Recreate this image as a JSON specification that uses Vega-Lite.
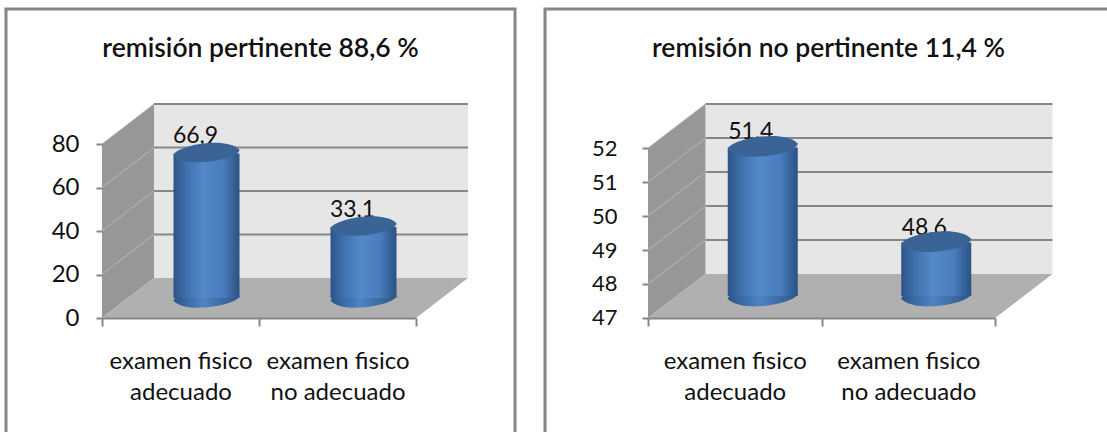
{"$schema":"https://vega.github.io/schema/vega-lite/v6.json","padding":{"left":4,"top":7,"right":0,"bottom":0},"background":"white","spacing":26,
"config":{"font":"Lato","view":{"stroke":"#868686","strokeWidth":3},"axis":{"labelFont":"Lato","labelColor":"#111111","tickColor":"#868686","domainColor":"#868686","tickWidth":2,"domainWidth":2}},
"datasets":{
"left_bars":[{"cat":"examen fisico adecuado","value":66.9,"label":"66,9"},{"cat":"examen fisico no adecuado","value":33.1,"label":"33,1"}],
"right_bars":[{"cat":"examen fisico adecuado","value":51.4,"label":"51,4"},{"cat":"examen fisico no adecuado","value":48.6,"label":"48,6"}],
"left_walls":[{"part":"back","x":0.331,"y":18.39,"y2":98.39},{"part":"back","x":2.331,"y":18.39,"y2":98.39},{"part":"side","x":0,"y":0,"y2":80},{"part":"side","x":0.331,"y":18.39,"y2":98.39},{"part":"floor","x":0,"y":0,"y2":0},{"part":"floor","x":0.331,"y":0,"y2":18.39},{"part":"floor","x":2,"y":0,"y2":18.39},{"part":"floor","x":2.331,"y":18.39,"y2":18.39}],
"right_walls":[{"part":"back","x":0.331,"y":48.294,"y2":53.294},{"part":"back","x":2.331,"y":48.294,"y2":53.294},{"part":"side","x":0,"y":47,"y2":52},{"part":"side","x":0.331,"y":48.294,"y2":53.294},{"part":"floor","x":0,"y":47,"y2":47},{"part":"floor","x":0.331,"y":47,"y2":48.294},{"part":"floor","x":2,"y":47,"y2":48.294},{"part":"floor","x":2.331,"y":48.294,"y2":48.294}],
"left_grid":[{"part":"side","v":20,"x":0,"y":20},{"part":"side","v":20,"x":0.331,"y":38.39},{"part":"side","v":40,"x":0,"y":40},{"part":"side","v":40,"x":0.331,"y":58.39},{"part":"side","v":60,"x":0,"y":60},{"part":"side","v":60,"x":0.331,"y":78.39},{"part":"side","v":80,"x":0,"y":80},{"part":"side","v":80,"x":0.331,"y":98.39},{"part":"back","v":20,"x":0.331,"y":38.39},{"part":"back","v":20,"x":2.331,"y":38.39},{"part":"back","v":40,"x":0.331,"y":58.39},{"part":"back","v":40,"x":2.331,"y":58.39},{"part":"back","v":60,"x":0.331,"y":78.39},{"part":"back","v":60,"x":2.331,"y":78.39},{"part":"back","v":80,"x":0.331,"y":98.39},{"part":"back","v":80,"x":2.331,"y":98.39}],
"right_grid":[{"part":"side","v":48,"x":0,"y":48},{"part":"side","v":48,"x":0.331,"y":49.294},{"part":"side","v":49,"x":0,"y":49},{"part":"side","v":49,"x":0.331,"y":50.294},{"part":"side","v":50,"x":0,"y":50},{"part":"side","v":50,"x":0.331,"y":51.294},{"part":"side","v":51,"x":0,"y":51},{"part":"side","v":51,"x":0.331,"y":52.294},{"part":"side","v":52,"x":0,"y":52},{"part":"side","v":52,"x":0.331,"y":53.294},{"part":"back","v":48,"x":0.331,"y":49.294},{"part":"back","v":48,"x":2.331,"y":49.294},{"part":"back","v":49,"x":0.331,"y":50.294},{"part":"back","v":49,"x":2.331,"y":50.294},{"part":"back","v":50,"x":0.331,"y":51.294},{"part":"back","v":50,"x":2.331,"y":51.294},{"part":"back","v":51,"x":0.331,"y":52.294},{"part":"back","v":51,"x":2.331,"y":52.294},{"part":"back","v":52,"x":0.331,"y":53.294},{"part":"back","v":52,"x":2.331,"y":53.294}]
},
"hconcat":[
{"width":509,"height":430,"title":{"text":"remisión pertinente 88,6 %","anchor":"middle","offset":-53,"fontSize":26.5,"fontWeight":600,"font":"Lato","color":"#111111"},
"resolve":{"scale":{"x":"independent"},"axis":{"x":"independent"}},
"layer":[
{"data":{"name":"left_walls"},"mark":{"type":"area","line":false},"encoding":{"x":{"field":"x","type":"quantitative","scale":{"domain":[-0.6115,2.6306],"nice":false,"zero":false},"axis":null},"y":{"field":"y","type":"quantitative","stack":false,"scale":{"domain":[-55.63,142.07],"nice":false,"zero":false},"axis":{"title":null,"values":[0,20,40,60,80],"offset":-96,"domain":false,"grid":false,"tickSize":6,"labelFontSize":24,"labelPadding":17,"zindex":1}},"y2":{"field":"y2"},"color":{"field":"part","type":"nominal","legend":null,"scale":{"domain":["back","side","floor"],"range":["#e6e6e6","#979797","#b0b0b0"]}}}},
{"data":{"name":"left_grid"},"transform":[{"filter":"datum.part=='side'"}],"mark":{"type":"line","color":"#b8b8b8","strokeWidth":1},"encoding":{"x":{"field":"x","type":"quantitative","scale":{"domain":[-0.6115,2.6306],"nice":false,"zero":false},"axis":null},"y":{"field":"y","type":"quantitative"},"detail":{"field":"v"}}},
{"data":{"name":"left_grid"},"transform":[{"filter":"datum.part=='back'"}],"mark":{"type":"line","color":"#868686","strokeWidth":2},"encoding":{"x":{"field":"x","type":"quantitative","scale":{"domain":[-0.6115,2.6306],"nice":false,"zero":false},"axis":null},"y":{"field":"y","type":"quantitative"},"detail":{"field":"v"}}},
{"data":{"name":"left_bars"},"mark":{"type":"point","filled":true,"opacity":1,"size":4356,"yOffset":-20,"xOffset":26,"shape":"M -1 0.08 C -0.95 -0.2 0.6 -0.52 1 -0.08 C 1.02 0.2 -0.6 0.52 -1 0.08 Z","fill":{"x1":0,"x2":1,"y1":0,"y2":0,"gradient":"linear","stops":[{"offset":0,"color":"#2c5588"},{"offset":0.45,"color":"#4f83c4"},{"offset":1,"color":"#2c5588"}]}},"encoding":{"x":{"field":"cat","type":"nominal","scale":{"type":"band","domain":["examen fisico adecuado","examen fisico no adecuado"],"range":[96,410],"paddingInner":0,"paddingOuter":0},"axis":null},"y":{"datum":0,"type":"quantitative"}}},
{"data":{"name":"left_bars"},"mark":{"type":"bar","size":66,"xOffset":26,"yOffset":-19,"y2Offset":-20,"fill":{"x1":0,"x2":1,"y1":0,"y2":0,"gradient":"linear","stops":[{"offset":0,"color":"#2c5588"},{"offset":0.2,"color":"#3f71ae"},{"offset":0.45,"color":"#5388ca"},{"offset":0.75,"color":"#4a7dbc"},{"offset":1,"color":"#2a5284"}]}},"encoding":{"x":{"field":"cat","type":"nominal","scale":{"type":"band","domain":["examen fisico adecuado","examen fisico no adecuado"],"range":[96,410],"paddingInner":0,"paddingOuter":0},"axis":{"title":null,"labelExpr":"split(replace(datum.label,'fisico ','fisico|'),'|')","labelAngle":0,"tickBand":"extent","offset":-121,"tickSize":8,"labelFontSize":24,"labelLineHeight":31,"labelPadding":23,"labelBaseline":"top","zindex":1,"labelLimit":0}},"y":{"field":"value","type":"quantitative","stack":false},"y2":{"datum":0}}},
{"data":{"name":"left_bars"},"mark":{"type":"text","fontSize":23,"color":"#111111","dx":15,"yOffset":-36},"encoding":{"x":{"field":"cat","type":"nominal","scale":{"type":"band","domain":["examen fisico adecuado","examen fisico no adecuado"],"range":[96,410],"paddingInner":0,"paddingOuter":0},"axis":null},"y":{"field":"value","type":"quantitative"},"text":{"field":"label"}}},
{"data":{"name":"left_bars"},"mark":{"type":"point","filled":true,"opacity":1,"size":4356,"yOffset":-20,"xOffset":26,"shape":"M -1 0.08 C -0.95 -0.2 0.6 -0.52 1 -0.08 C 1.02 0.2 -0.6 0.52 -1 0.08 Z","fill":"#3a6496"},"encoding":{"x":{"field":"cat","type":"nominal","scale":{"type":"band","domain":["examen fisico adecuado","examen fisico no adecuado"],"range":[96,410],"paddingInner":0,"paddingOuter":0},"axis":null},"y":{"field":"value","type":"quantitative"}}}
]},
{"width":567,"height":430,"title":{"text":"remisión no pertinente 11,4 %","anchor":"middle","offset":-53,"fontSize":26.5,"fontWeight":600,"font":"Lato","color":"#111111"},
"resolve":{"scale":{"x":"independent"},"axis":{"x":"independent"}},
"layer":[
{"data":{"name":"right_walls"},"mark":{"type":"area","line":false},"encoding":{"x":{"field":"x","type":"quantitative","scale":{"domain":[-0.5937,2.674],"nice":false,"zero":false},"axis":null},"y":{"field":"y","type":"quantitative","stack":false,"scale":{"domain":[43.44,56.09],"nice":false,"zero":false},"axis":{"title":null,"values":[47,48,49,50,51,52],"offset":-103,"domain":false,"grid":false,"tickSize":6,"labelFontSize":22,"labelPadding":25,"zindex":1}},"y2":{"field":"y2"},"color":{"field":"part","type":"nominal","legend":null,"scale":{"domain":["back","side","floor"],"range":["#e6e6e6","#979797","#b0b0b0"]}}}},
{"data":{"name":"right_grid"},"transform":[{"filter":"datum.part=='side'"}],"mark":{"type":"line","color":"#b8b8b8","strokeWidth":1},"encoding":{"x":{"field":"x","type":"quantitative","scale":{"domain":[-0.5937,2.674],"nice":false,"zero":false},"axis":null},"y":{"field":"y","type":"quantitative"},"detail":{"field":"v"}}},
{"data":{"name":"right_grid"},"transform":[{"filter":"datum.part=='back'"}],"mark":{"type":"line","color":"#868686","strokeWidth":2},"encoding":{"x":{"field":"x","type":"quantitative","scale":{"domain":[-0.5937,2.674],"nice":false,"zero":false},"axis":null},"y":{"field":"y","type":"quantitative"},"detail":{"field":"v"}}},
{"data":{"name":"right_bars"},"mark":{"type":"point","filled":true,"opacity":1,"size":4900,"yOffset":-22,"xOffset":28,"shape":"M -1 0.08 C -0.95 -0.2 0.6 -0.52 1 -0.08 C 1.02 0.2 -0.6 0.52 -1 0.08 Z","fill":{"x1":0,"x2":1,"y1":0,"y2":0,"gradient":"linear","stops":[{"offset":0,"color":"#2c5588"},{"offset":0.45,"color":"#4f83c4"},{"offset":1,"color":"#2c5588"}]}},"encoding":{"x":{"field":"cat","type":"nominal","scale":{"type":"band","domain":["examen fisico adecuado","examen fisico no adecuado"],"range":[103,450],"paddingInner":0,"paddingOuter":0},"axis":null},"y":{"datum":47,"type":"quantitative"}}},
{"data":{"name":"right_bars"},"mark":{"type":"bar","size":70,"xOffset":28,"yOffset":-21,"y2Offset":-22,"fill":{"x1":0,"x2":1,"y1":0,"y2":0,"gradient":"linear","stops":[{"offset":0,"color":"#2c5588"},{"offset":0.2,"color":"#3f71ae"},{"offset":0.45,"color":"#5388ca"},{"offset":0.75,"color":"#4a7dbc"},{"offset":1,"color":"#2a5284"}]}},"encoding":{"x":{"field":"cat","type":"nominal","scale":{"type":"band","domain":["examen fisico adecuado","examen fisico no adecuado"],"range":[103,450],"paddingInner":0,"paddingOuter":0},"axis":{"title":null,"labelExpr":"split(replace(datum.label,'fisico ','fisico|'),'|')","labelAngle":0,"tickBand":"extent","offset":-121,"tickSize":8,"labelFontSize":24,"labelLineHeight":31,"labelPadding":23,"labelBaseline":"top","zindex":1,"labelLimit":0}},"y":{"field":"value","type":"quantitative","stack":false},"y2":{"datum":47}}},
{"data":{"name":"right_bars"},"mark":{"type":"text","fontSize":23,"color":"#111111","dx":16,"yOffset":-36},"encoding":{"x":{"field":"cat","type":"nominal","scale":{"type":"band","domain":["examen fisico adecuado","examen fisico no adecuado"],"range":[103,450],"paddingInner":0,"paddingOuter":0},"axis":null},"y":{"field":"value","type":"quantitative"},"text":{"field":"label"}}},
{"data":{"name":"right_bars"},"mark":{"type":"point","filled":true,"opacity":1,"size":4900,"yOffset":-22,"xOffset":28,"shape":"M -1 0.08 C -0.95 -0.2 0.6 -0.52 1 -0.08 C 1.02 0.2 -0.6 0.52 -1 0.08 Z","fill":"#3a6496"},"encoding":{"x":{"field":"cat","type":"nominal","scale":{"type":"band","domain":["examen fisico adecuado","examen fisico no adecuado"],"range":[103,450],"paddingInner":0,"paddingOuter":0},"axis":null},"y":{"field":"value","type":"quantitative"}}}
]}
]}
